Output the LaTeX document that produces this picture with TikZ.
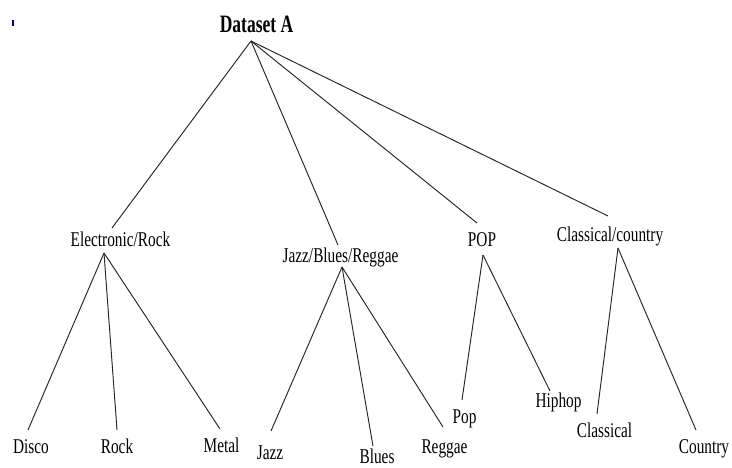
\documentclass[tikz,border=0pt]{standalone}
\usepackage{fontspec}
\setmainfont{Liberation Serif}[FakeStretch=0.73]
\newfontfamily\headfont{Liberation Serif}[FakeStretch=0.70]
\begin{document}
\begin{tikzpicture}[x=1pt,y=-1pt,
  lbl/.style={inner sep=0pt, anchor=base, text=black, font=\fontsize{21}{21}\selectfont},
  head/.style={inner sep=0pt, anchor=base, text=black, font=\headfont\bfseries\fontsize{25}{25}\selectfont},
  edge/.style={line width=0.95pt, draw=black!85}]
\useasboundingbox (0,0) rectangle (732,468);

% small mark in the corner
\fill[blue!40!black] (12,20) rectangle (13.6,26);

% labels
\node[head] (ds) at (256.5,33) {Dataset A};
\node[lbl] (er)  at (120.5,247) {Electronic/Rock};
\node[lbl] (jbr) at (340.5,262) {Jazz/Blues/Reggae};
\node[lbl] (pp)  at (482,247) {POP};
\node[lbl] (cc)  at (610,242) {Classical/country};
\node[lbl] (disco) at (31,453) {Disco};
\node[lbl] (rock)  at (117,453) {Rock};
\node[lbl] (metal) at (221.5,452) {Metal};
\node[lbl] (jazz)  at (270,459) {Jazz};
\node[lbl] (blues) at (377,463.5) {Blues};
\node[lbl] (reggae) at (444.5,453) {Reggae};
\node[lbl] (pop)   at (464.5,423) {Pop};
\node[lbl] (hiphop) at (558.5,407) {Hiphop};
\node[lbl] (classical) at (604.5,437) {Classical};
\node[lbl] (country) at (704,453) {Country};

% connector ends
\coordinate (ds-b) at (251,41);
\coordinate (er-t) at (112,228);
\coordinate (jbr-t) at (338,245);
\coordinate (pp-t) at (477,223);
\coordinate (cc-t) at (608,216);
\coordinate (er-b) at (104,253);
\coordinate (jbr-b) at (342,267);
\coordinate (pp-b) at (483,255);
\coordinate (cc-b) at (618,248);
\coordinate (disco-t) at (28,430);
\coordinate (rock-t) at (117,430);
\coordinate (metal-t) at (220,429);
\coordinate (jazz-t) at (271,431);
\coordinate (blues-t) at (373,446);
\coordinate (reggae-t) at (443,427);
\coordinate (pop-t) at (462,400);
\coordinate (hiphop-t) at (550,391);
\coordinate (classical-t) at (597,414);
\coordinate (country-t) at (696,430);

% tree edges
\draw[edge] (ds-b) -- (er-t);
\draw[edge] (ds-b) -- (jbr-t);
\draw[edge] (ds-b) -- (pp-t);
\draw[edge] (ds-b) -- (cc-t);
\draw[edge] (er-b) -- (disco-t);
\draw[edge] (er-b) -- (rock-t);
\draw[edge] (er-b) -- (metal-t);
\draw[edge] (jbr-b) -- (jazz-t);
\draw[edge] (jbr-b) -- (blues-t);
\draw[edge] (jbr-b) -- (reggae-t);
\draw[edge] (pp-b) -- (pop-t);
\draw[edge] (pp-b) -- (hiphop-t);
\draw[edge] (cc-b) -- (classical-t);
\draw[edge] (cc-b) -- (country-t);
\end{tikzpicture}
\end{document}
